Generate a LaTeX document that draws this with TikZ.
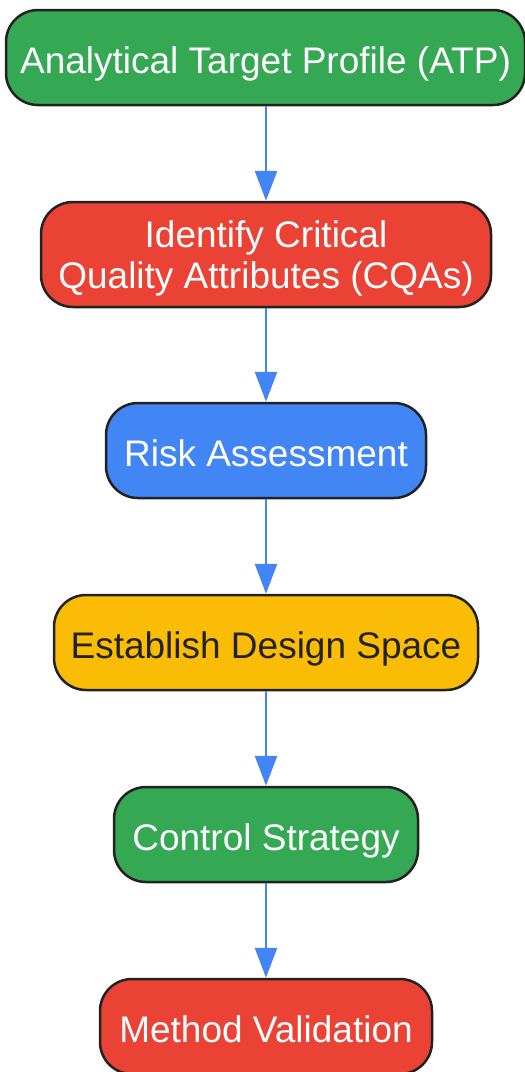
\documentclass[tikz,border=0pt]{standalone}
\usepackage{fontspec}
\setmainfont{Liberation Sans}
\usetikzlibrary{arrows.meta}
\definecolor{ggreen}{HTML}{34A853}
\definecolor{gred}{HTML}{EA4335}
\definecolor{gblue}{HTML}{4285F4}
\definecolor{gyellow}{HTML}{FBBC05}
\definecolor{gborder}{HTML}{222222}
\definecolor{gdark}{HTML}{222222}
\tikzset{
  stepbox/.style={draw=gborder, line width=2.5pt, rounded corners=32pt,
    align=center, inner sep=0pt, font=\fontsize{37}{41}\selectfont,
    text=white, text height=31pt, text depth=0pt, minimum height=95pt},
  flow/.style={draw=gblue, line width=2.7pt, -{Triangle[width=22pt,length=30pt]}}
}
\begin{document}
\begin{tikzpicture}[x=1pt,y=-1pt]
\useasboundingbox (0,0) rectangle (525,1072);
\node[stepbox, fill=ggreen, minimum width=519pt] (atp) at (265.5,57.5) {Analytical Target Profile (ATP)};
\node[stepbox, fill=gred, minimum width=450pt, minimum height=105pt, text height=67pt] (cqa) at (266,254.5) {Identify Critical\\Quality Attributes (CQAs)};
\node[stepbox, fill=gblue, minimum width=320pt] (risk) at (266,450.5) {Risk Assessment};
\node[stepbox, fill=gyellow, text=gdark, minimum width=424pt] (design) at (266,642.5) {Establish Design Space};
\node[stepbox, fill=ggreen, minimum width=304pt] (control) at (266,834.5) {Control Strategy};
\node[stepbox, fill=gred, minimum width=332pt] (method) at (266,1026.5) {Method Validation};
\draw[flow] (atp.south -| cqa.north) -- (cqa.north);
\draw[flow] (cqa) -- (risk);
\draw[flow] (risk) -- (design);
\draw[flow] (design) -- (control);
\draw[flow] (control) -- (method);
\end{tikzpicture}
\end{document}
